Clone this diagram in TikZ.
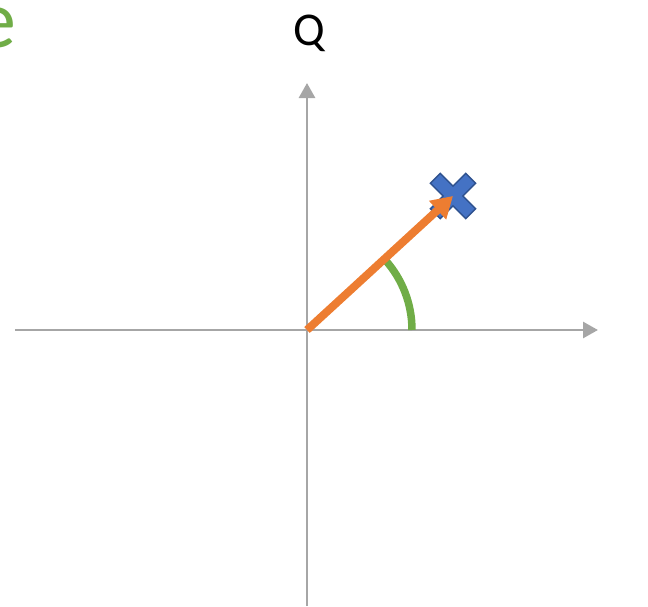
\documentclass[tikz,border=0pt]{standalone}
\usepackage{fontspec}
\setmainfont{Carlito}
\usetikzlibrary{arrows.meta}
\definecolor{axGray}{HTML}{A6A6A6}
\definecolor{vecOrange}{HTML}{ED7D31}
\definecolor{angGreen}{HTML}{70AD47}
\definecolor{ptBlue}{HTML}{4472C4}
\definecolor{ptBlueDark}{HTML}{2F528F}
\tikzset{
  axis/.style={
    -{Triangle[length=15pt, width=16pt]},
    axGray, line width=2.8pt
  },
  vecarrow/.style={
    -{Triangle[length=21pt, width=24pt]},
    vecOrange, line width=8pt
  },
  anglearc/.style={
    angGreen, line width=7.5pt
  },
  axlabel/.style={font=\fontsize{47}{50}\selectfont, inner sep=0pt}
}
\begin{document}
\begin{tikzpicture}[x=1pt, y=1pt]
      \useasboundingbox (-307,-276) rectangle (341,330);
      \clip (-307,-276) rectangle (341,330);
      % Axes
      \coordinate (o) at (0,0);
      \coordinate (xl) at (-292,0);
      \coordinate (xr) at (291,0);
      \coordinate (yb) at (0,-276);
      \coordinate (yt) at (0,247);
      \draw[axis] (xl) -- (xr);
      \draw[axis] (yb) -- (yt);
      % Labels
      \node[axlabel, anchor=base] (qlab) at (2,285) {Q};
      \node[axlabel, anchor=base east, angGreen, font=\fontsize{82}{86}\selectfont] (cut) at (-290,283) {e};
      % Angle
      \draw[anglearc] (105,0) arc[start angle=0, end angle=42, radius=105];
      % Point
      \coordinate (pt) at (146,134);
      \fill[ptBlue, draw=ptBlueDark, line width=1.3pt, shift={(pt)}, rotate=45]
        (-7,-25) -- (7,-25) -- (7,-7) -- (25,-7) -- (25,7) -- (7,7)
        -- (7,25) -- (-7,25) -- (-7,7) -- (-25,7) -- (-25,-7) -- (-7,-7) -- cycle;
      % Vector
      \draw[vecarrow] (o) -- (pt);
    \end{tikzpicture}
\end{document}
